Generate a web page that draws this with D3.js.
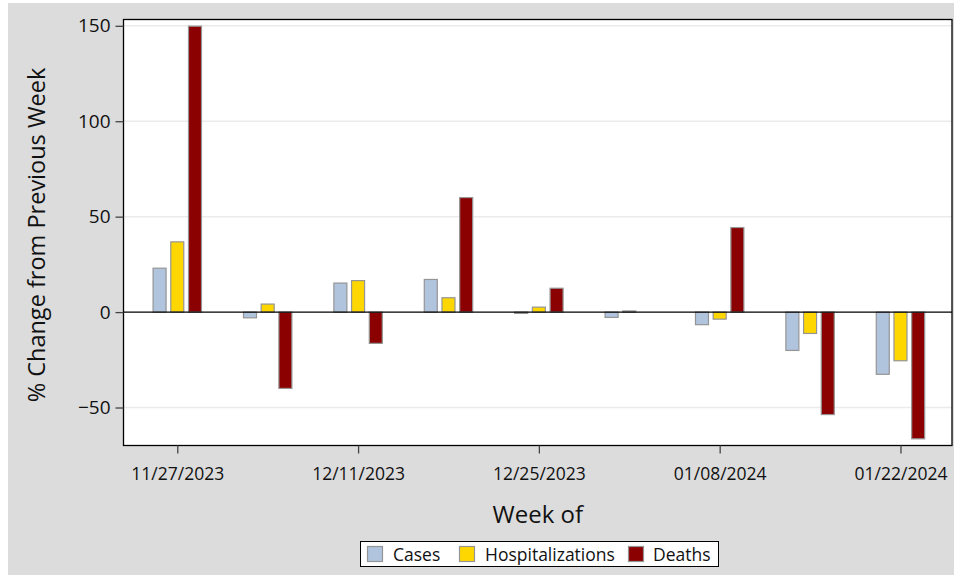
<!DOCTYPE html>
<html><head><meta charset="utf-8">
<script src="https://cdn.jsdelivr.net/npm/d3@7"></script>
<style>body{margin:0;background:#fff;}svg{display:block;font-family:"Open Sans","Noto Sans",sans-serif;}</style>
</head><body>
<svg id="c" width="954" height="575"></svg>
<script>
const weeks = ["11/27/2023","12/04/2023","12/11/2023","12/18/2023","12/25/2023","01/01/2024","01/08/2024","01/15/2024","01/22/2024"];
const tickLabels = ["11/27/2023","12/11/2023","12/25/2023","01/08/2024","01/22/2024"];
const seriesNames = ["Cases","Hospitalizations","Deaths"];
const cases = [23.0, -3.0, 15.2, 17.1, -0.7, -2.8, -6.6, -20.1, -32.6];
const hosp = [36.8, 4.2, 16.5, 7.5, 2.6, 0.6, -3.7, -11.2, -25.5];
const deaths = [149.8, -40.0, -16.4, 60.0, 12.5, 0.0, 44.3, -53.7, -66.4];
const yTicks = [-50, 0, 50, 100, 150];
const colors = ["#B0C4DE","#FFD700","#8B0000"];

const svg = d3.select("#c");
svg.append("rect").attr("x",8).attr("y",3).attr("width",946).attr("height",572).attr("fill","#dcdcdc");

const L=123.5, R=952, T=19.5, B=445.5;
const x = d3.scaleLinear().domain([-0.595, 8.57]).range([L,R]);
const y = d3.scaleLinear().domain([-69.9, 153.3]).range([B,T]);

svg.append("rect").attr("x",L).attr("y",T).attr("width",R-L).attr("height",B-T).attr("fill","#fff");

// grid
svg.append("g").selectAll("line").data(yTicks.filter(d=>d!==0)).join("line")
  .attr("x1",L).attr("x2",R).attr("y1",d=>y(d)).attr("y2",d=>y(d))
  .attr("stroke","#ebebeb").attr("stroke-width",1.5);

const series = [cases,hosp,deaths];
const off = [-17.7,0,17.7], bw = 13;
series.forEach((vals,si)=>{
  svg.append("g").selectAll("rect").data(vals).join("rect")
    .attr("x",(d,i)=>x(i)+off[si]-bw/2)
    .attr("y",d=>y(Math.max(0,d)))
    .attr("width",bw)
    .attr("height",d=>Math.abs(y(d)-y(0)))
    .attr("fill",colors[si]).attr("stroke","#959595").attr("stroke-width",1.2);
});

// zero line
svg.append("line").attr("x1",L).attr("x2",R).attr("y1",y(0)).attr("y2",y(0)).attr("stroke","#000").attr("stroke-width",1.3);

// frame
svg.append("rect").attr("x",L).attr("y",T).attr("width",R-L).attr("height",B-T).attr("fill","none").attr("stroke","#000").attr("stroke-width",1.3);

// y axis
const yAxis = d3.axisLeft(y).tickValues(yTicks).tickSize(8).tickPadding(5).tickFormat(d3.format("d"));
const gy = svg.append("g").attr("transform",`translate(${L},0)`).call(yAxis);
gy.select(".domain").remove();
gy.selectAll(".tick line").attr("stroke","#444").attr("stroke-width",1.3);
gy.selectAll("text").attr("font-size",19).attr("fill","#111").style("font-family","'Open Sans','Noto Sans',sans-serif");

// x axis
const tickIdx = tickLabels.map(t=>weeks.indexOf(t));
const xAxis = d3.axisBottom(x).tickValues(tickIdx).tickSize(8).tickPadding(14).tickFormat(i=>weeks[i]);
const gx = svg.append("g").attr("transform",`translate(0,${B})`).call(xAxis);
gx.select(".domain").remove();
gx.selectAll(".tick line").attr("stroke","#444").attr("stroke-width",1.3);
gx.selectAll("text").attr("font-size",17.5).attr("fill","#111").style("font-family","'Open Sans','Noto Sans',sans-serif");

// titles
svg.append("text").attr("x",(L+R)/2).attr("y",523).attr("text-anchor","middle").attr("font-size",24).attr("fill","#111").text("Week of");
svg.append("text").attr("transform","translate(45,235) rotate(-90)").attr("text-anchor","middle").attr("font-size",23.5).attr("fill","#111").text("% Change from Previous Week");

// legend
const lg = svg.append("g");
lg.append("rect").attr("x",360.5).attr("y",541.5).attr("width",358).attr("height",25).attr("fill","#fff").attr("stroke","#000").attr("stroke-width",1);
seriesNames.forEach((n,i)=>{
  lg.append("rect").attr("x",[367.5,459.5,628.5][i]).attr("y",546.5).attr("width",15).attr("height",15)
    .attr("fill",colors[i]).attr("stroke","#959595").attr("stroke-width",1.2);
  lg.append("text").attr("x",[393,485,653][i]).attr("y",560.5).attr("font-size",17.5).attr("fill","#111").text(n);
});
</script>
</body></html>
